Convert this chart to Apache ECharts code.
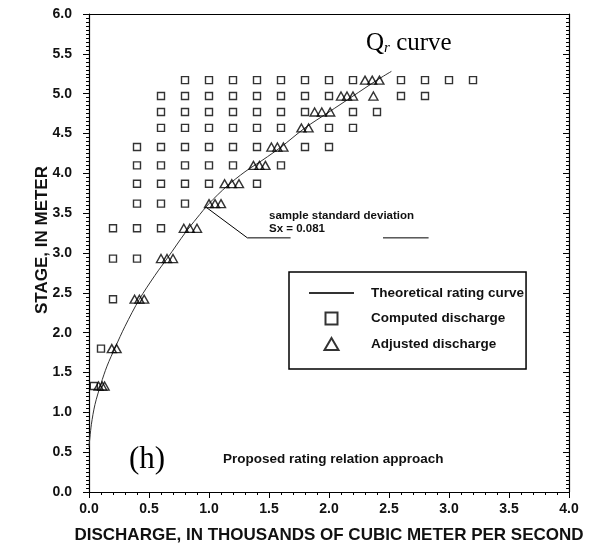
<!DOCTYPE html>
<html>
<head>
<meta charset="utf-8">
<script src="https://cdn.jsdelivr.net/npm/echarts@6/dist/echarts.min.js"></script>
<style>
  html, body { margin: 0; padding: 0; background: #fff; }
  #chart { width: 597px; height: 548px; }
</style>
</head>
<body>
<div id="chart"></div>
<script>
// Stage levels (m) at which discharges were computed
const stageLevels = [1.33, 1.80, 2.42, 2.93, 3.31, 3.62, 3.87, 4.10, 4.33, 4.57, 4.77, 4.97, 5.17];

// Computed discharge (thousand m3/s) at each stage level
const computedDischarge = [
  [0.04],
  [0.10],
  [0.20],
  [0.20, 0.40],
  [0.20, 0.40, 0.60],
  [0.40, 0.60, 0.80],
  [0.40, 0.60, 0.80, 1.00, 1.40],
  [0.40, 0.60, 0.80, 1.00, 1.20, 1.60],
  [0.40, 0.60, 0.80, 1.00, 1.20, 1.40, 1.80, 2.00],
  [0.60, 0.80, 1.00, 1.20, 1.40, 1.60, 2.00, 2.20],
  [0.60, 0.80, 1.00, 1.20, 1.40, 1.60, 1.80, 2.20, 2.40],
  [0.60, 0.80, 1.00, 1.20, 1.40, 1.60, 1.80, 2.00, 2.60, 2.80],
  [0.80, 1.00, 1.20, 1.40, 1.60, 1.80, 2.00, 2.20, 2.60, 2.80, 3.00, 3.20]
];

// Adjusted discharge (thousand m3/s) at each stage level
const adjustedDischarge = [
  [0.08, 0.11, 0.13],
  [0.19, 0.23],
  [0.38, 0.42, 0.46],
  [0.60, 0.65, 0.70],
  [0.79, 0.84, 0.90],
  [1.00, 1.05, 1.10],
  [1.13, 1.19, 1.25],
  [1.37, 1.42, 1.47],
  [1.52, 1.57, 1.62],
  [1.77, 1.83],
  [1.88, 1.94, 2.01],
  [2.10, 2.15, 2.20, 2.37],
  [2.30, 2.36, 2.42]
];

// Theoretical rating curve
const curveQ = [0.00, 0.02, 0.05, 0.10, 0.15, 0.22, 0.30, 0.42, 0.55, 0.66, 0.80, 0.90, 1.00, 1.15, 1.30, 1.45, 1.60, 1.80, 2.00, 2.20, 2.40, 2.52];
const curveH = [0.57, 0.85, 1.10, 1.36, 1.58, 1.82, 2.08, 2.42, 2.72, 2.95, 3.25, 3.44, 3.62, 3.84, 4.02, 4.17, 4.33, 4.57, 4.77, 4.97, 5.17, 5.28];

// Leader for the standard deviation note
const leaderQ = [0.98, 1.32, 1.68];
const leaderH = [3.57, 3.19, 3.19];
const underlineQ = [2.45, 2.83];
const underlineH = [3.19, 3.19];

// Axis ticks
const xTickLabels = ['0.0', '0.5', '1.0', '1.5', '2.0', '2.5', '3.0', '3.5', '4.0'];
const yTickLabels = ['0.0', '0.5', '1.0', '1.5', '2.0', '2.5', '3.0', '3.5', '4.0', '4.5', '5.0', '5.5', '6.0'];

function pairs(rowValues) {
  const out = [];
  rowValues.forEach((row, i) => row.forEach(q => out.push([q, stageLevels[i]])));
  return out;
}
function zip(a, b) { return a.map((v, i) => [v, b[i]]); }

const SANS = '"Liberation Sans", Arial, sans-serif';
const SERIF = '"Liberation Serif", "Times New Roman", serif';

const chart = echarts.init(document.getElementById('chart'));

chart.setOption({
  animation: false,
  backgroundColor: '#fff',
  grid: { left: 89, right: 28, top: 14, bottom: 56, containLabel: false, outerBoundsMode: 'none' },
  xAxis: [{
    type: 'value', min: 0, max: 4, interval: 0.5, position: 'bottom',
    name: 'DISCHARGE, IN THOUSANDS OF CUBIC METER PER SECOND',
    nameLocation: 'middle', nameGap: 35, nameMoveOverlap: false,
    nameTextStyle: { fontFamily: SANS, fontWeight: 'bold', fontSize: 17, color: '#111' },
    axisLine: { show: true, lineStyle: { color: '#000', width: 1.2 } },
    axisTick: { show: true, inside: false, length: 6, lineStyle: { color: '#000' } },
    minorTick: { show: true, splitNumber: 5, length: 3, lineStyle: { color: '#000' } },
    axisLabel: {
      margin: 10, fontFamily: SANS, fontWeight: 'bold', fontSize: 14, color: '#111',
      formatter: v => xTickLabels[Math.round(v / 0.5)]
    },
    splitLine: { show: false }
  }, {
    type: 'value', min: 0, max: 4, interval: 0.5, position: 'top',
    axisLine: { show: true, onZero: false, lineStyle: { color: '#000', width: 1.2 } },
    axisTick: { show: false }, axisLabel: { show: false }, splitLine: { show: false }
  }],
  yAxis: [{
    type: 'value', min: 0, max: 6, interval: 0.5, position: 'left',
    name: 'STAGE, IN METER',
    nameLocation: 'middle', nameGap: 38, nameRotate: 90, nameMoveOverlap: false,
    nameTextStyle: { fontFamily: SANS, fontWeight: 'bold', fontSize: 17, color: '#111', padding: [0, 0, 0, 26] },
    axisLine: { show: true, lineStyle: { color: '#000', width: 1.2 } },
    axisTick: { show: true, inside: false, length: 6, lineStyle: { color: '#000' } },
    minorTick: { show: true, splitNumber: 10, length: 3, lineStyle: { color: '#000' } },
    axisLabel: {
      margin: 17, fontFamily: SANS, fontWeight: 'bold', fontSize: 14, color: '#111',
      formatter: v => yTickLabels[Math.round(v / 0.5)]
    },
    splitLine: { show: false }
  }, {
    type: 'value', min: 0, max: 6, interval: 0.5, position: 'right',
    axisLine: { show: true, onZero: false, lineStyle: { color: '#000', width: 1.2 } },
    axisTick: { show: true, inside: true, length: 6, lineStyle: { color: '#000' } },
    minorTick: { show: true, splitNumber: 10, length: 3, lineStyle: { color: '#000' } },
    axisLabel: { show: false }, splitLine: { show: false }
  }],
  legend: {
    data: [
      { name: 'Theoretical rating curve', itemStyle: { color: 'rgba(0,0,0,0)', borderWidth: 0 } },
      { name: 'Computed discharge', icon: 'path://M0,0H10V10H0Z' },
      { name: 'Adjusted discharge', icon: 'path://M7,0L14,12H0Z' }
    ],
    orient: 'vertical', left: 289, top: 272,
    padding: [14, 2, 18, 19],
    itemWidth: 45, itemHeight: 12, itemGap: 11.5,
    symbolKeepAspect: true,
    borderColor: '#000', borderWidth: 1.5,
    selectedMode: false,
    textStyle: { fontFamily: SANS, fontWeight: 'bold', fontSize: 13.5, color: '#111', padding: [0, 0, 0, 12] }
  },
  series: [{
    name: 'Theoretical rating curve', type: 'line', data: zip(curveQ, curveH),
    symbol: 'none', smooth: 0.3, silent: true,
    lineStyle: { color: '#333', width: 1 }, itemStyle: { color: '#000' }, z: 3
  }, {
    name: 'Computed discharge', type: 'scatter', data: pairs(computedDischarge),
    symbol: 'rect', symbolSize: 7, silent: true,
    itemStyle: { color: 'rgba(255,255,255,0)', borderColor: '#000', borderWidth: 1.4 }, z: 2
  }, {
    name: 'Adjusted discharge', type: 'scatter', data: pairs(adjustedDischarge),
    symbol: 'triangle', symbolSize: [9, 8], silent: true,
    itemStyle: { color: 'rgba(255,255,255,0)', borderColor: '#000', borderWidth: 1.4 }, z: 4
  }, {
    name: 'leader', type: 'line', data: zip(leaderQ, leaderH), symbol: 'none', silent: true,
    lineStyle: { color: '#000', width: 1 }
  }, {
    name: 'underline', type: 'line', data: zip(underlineQ, underlineH), symbol: 'none', silent: true,
    lineStyle: { color: '#000', width: 1 }
  }],
  graphic: [{
    type: 'text', left: 366, top: 31,
    style: {
      text: '{q|Q}{r|r}{c| curve}',
      rich: {
        q: { fontFamily: SERIF, fontSize: 25, fill: '#000' },
        r: { fontFamily: SERIF, fontStyle: 'italic', fontSize: 15, fill: '#000', verticalAlign: 'bottom', padding: [10, 0, 0, 0] },
        c: { fontFamily: SERIF, fontSize: 25, fill: '#000' }
      }
    }
  }, {
    type: 'text', left: 269, top: 210,
    style: { text: 'sample standard deviation', font: 'bold 11.5px ' + SANS, fill: '#111' }
  }, {
    type: 'text', left: 269, top: 223,
    style: { text: 'Sx = 0.081', font: 'bold 11.5px ' + SANS, fill: '#111' }
  }, {
    type: 'text', left: 129, top: 444,
    style: { text: '(h)', font: '31px ' + SERIF, fill: '#000' }
  }, {
    type: 'text', left: 223, top: 452,
    style: { text: 'Proposed rating relation approach', font: 'bold 13.5px ' + SANS, fill: '#111' }
  }]
});
</script>
</body>
</html>
